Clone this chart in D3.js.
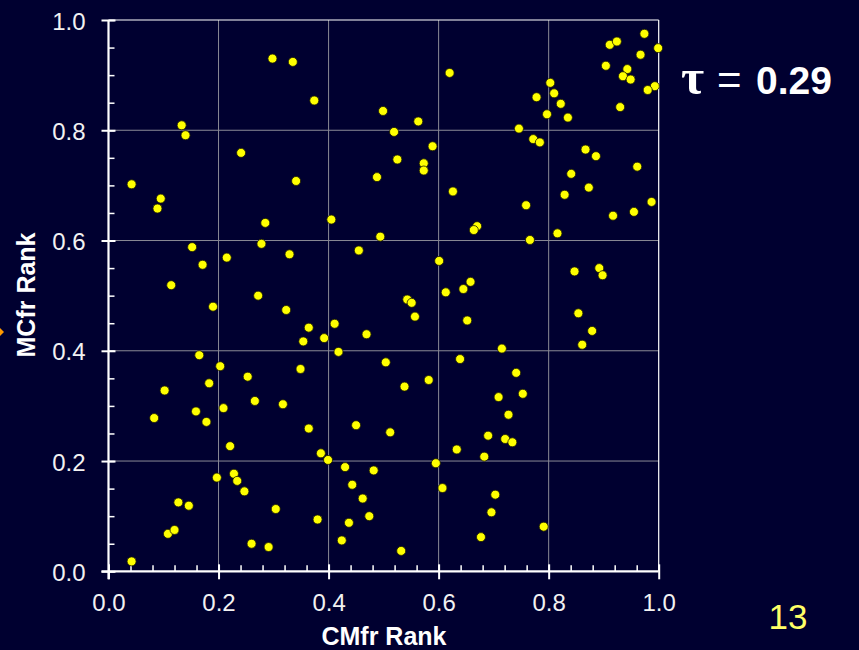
<!DOCTYPE html>
<html>
<head>
<meta charset="utf-8">
<script src="https://cdn.jsdelivr.net/npm/d3@7"></script>
<style>
  html, body { margin: 0; padding: 0; background: #000030; overflow: hidden; }
  svg { display: block; }
</style>
</head>
<body>
<svg id="chart" width="859" height="650"></svg>
<script>
// ---- data ----
const cmfrRank = [
  0.298,0.335,0.374,0.499,0.133,0.140,0.241,0.042,0.095,0.089,0.341,0.488,0.285,0.405,0.494,0.152,0.278,0.171,0.215,0.329,0.455,0.114,0.272,
  0.190,0.323,0.364,0.411,0.354,0.392,0.469,0.418,0.504,0.165,0.203,0.253,0.102,0.183,0.349,0.266,0.317,0.209,0.083,0.159,0.178,0.364,0.450,0.221,
  0.386,0.399,0.430,0.482,0.197,0.228,0.234,0.247,0.443,0.462,0.127,0.146,0.304,0.380,0.474,0.437,0.108,0.120,0.424,0.260,0.291,0.042,
  0.620,0.974,0.911,0.924,0.999,0.967,0.904,0.943,0.935,0.949,0.993,0.980,0.930,0.803,0.810,0.778,0.822,0.797,0.835,0.563,0.519,0.746,
  0.772,0.784,0.589,0.525,0.573,0.573,0.867,0.886,0.961,0.841,0.873,0.829,0.626,0.987,0.759,0.955,0.917,0.670,0.664,0.816,0.766,0.601,
  0.847,0.892,0.898,0.658,0.645,0.613,
  0.543,0.551,0.557,0.652,0.854,0.879,0.861,0.715,0.639,0.741,0.582,0.538,0.753,0.709,0.727,0.512,0.690,0.721,0.734,0.633,0.683,0.595,
  0.607,0.703,0.696,0.791,0.677,0.532
];
const mcfrRank = [
  0.930,0.924,0.854,0.835,0.809,0.791,0.759,0.702,0.676,0.658,0.708,0.715,0.632,0.638,0.607,0.588,0.594,0.556,0.569,0.575,0.582,0.519,0.500,
  0.480,0.474,0.442,0.449,0.417,0.423,0.430,0.398,0.379,0.392,0.372,0.353,0.328,0.341,0.367,0.309,0.303,0.296,0.278,0.290,0.271,0.259,0.265,0.227,
  0.214,0.202,0.189,0.183,0.170,0.177,0.164,0.145,0.157,0.132,0.125,0.119,0.113,0.094,0.100,0.088,0.068,0.075,0.056,0.050,0.044,0.018,
  0.904,0.975,0.955,0.961,0.949,0.937,0.917,0.911,0.898,0.892,0.880,0.873,0.842,0.886,0.867,0.860,0.848,0.829,0.823,0.816,0.797,0.803,
  0.784,0.778,0.771,0.747,0.740,0.727,0.765,0.753,0.734,0.721,0.696,0.683,0.689,0.670,0.664,0.652,0.645,0.626,0.619,0.613,0.601,0.563,
  0.544,0.550,0.537,0.525,0.512,0.506,
  0.493,0.487,0.462,0.455,0.468,0.436,0.411,0.404,0.385,0.360,0.347,0.335,0.322,0.316,0.284,0.252,0.246,0.240,0.234,0.221,0.208,0.196,
  0.151,0.139,0.107,0.081,0.062,0.037
];
const majorTicks = [0.0, 0.2, 0.4, 0.6, 0.8, 1.0];
const xMinorTicks = d3.range(0, 1.0001, 0.04);
const yMinorTicks = d3.range(0, 1.0001, 0.05);
const xTitle = "CMfr Rank";
const yTitle = "MCfr Rank";
const tauLabel = "0.29";
const slideNumber = "13";

// ---- drawing ----
const svg = d3.select("#chart");
const W = 859, H = 650;
svg.append("rect").attr("width", W).attr("height", H).attr("fill", "#000030");

const pL = 108.5, pR = 658.7, pT = 20, pB = 571.3;
const x = d3.scaleLinear().domain([0, 1]).range([pL, pR]);
const y = d3.scaleLinear().domain([0, 1]).range([pB, pT]);

const font = "'Liberation Sans', Arial, Helvetica, sans-serif";

// gridlines
const grid = svg.append("g");
grid.selectAll("line.gx").data(majorTicks.slice(1, -1)).join("line").attr("class", "gx")
  .attr("x1", d => x(d)).attr("x2", d => x(d)).attr("y1", pT).attr("y2", pB)
  .attr("stroke", "#8a8a96").attr("stroke-width", 1);
grid.selectAll("line.gy").data(majorTicks.slice(1, -1)).join("line").attr("class", "gy")
  .attr("y1", d => y(d)).attr("y2", d => y(d)).attr("x1", pL).attr("x2", pR)
  .attr("stroke", "#8a8a96").attr("stroke-width", 1);

// top and right border
svg.append("line").attr("x1", pL).attr("x2", pR).attr("y1", pT).attr("y2", pT)
  .attr("stroke", "#ffffff").attr("stroke-width", 1.2);
svg.append("line").attr("x1", pR).attr("x2", pR).attr("y1", pT).attr("y2", pB)
  .attr("stroke", "#ffffff").attr("stroke-width", 1.2);

// minor ticks (inside)
const xMinor = svg.append("g").attr("transform", `translate(0,${pB})`)
  .call(d3.axisTop(x).tickValues(xMinorTicks).tickSize(6).tickFormat(""));
xMinor.select(".domain").remove();
xMinor.selectAll("line").attr("stroke", "#ffffff").attr("stroke-width", 1.5);

const yMinor = svg.append("g").attr("transform", `translate(${pL},0)`)
  .call(d3.axisRight(y).tickValues(yMinorTicks).tickSize(6).tickFormat(""));
yMinor.select(".domain").remove();
yMinor.selectAll("line").attr("stroke", "#ffffff").attr("stroke-width", 1.5);

// major axes
const xAxis = svg.append("g").attr("transform", `translate(0,${pB})`)
  .call(d3.axisBottom(x).tickValues(majorTicks).tickSize(8).tickPadding(18).tickFormat(d3.format(".1f")));
xAxis.select(".domain").attr("d", `M${pL - 7},0H${pR}`).attr("stroke", "#ffffff").attr("stroke-width", 2.2);
xAxis.selectAll(".tick line").attr("y1", -7).attr("y2", 8).attr("stroke", "#ffffff").attr("stroke-width", 2);
xAxis.selectAll(".tick text").attr("fill", "#f2f2f2").attr("font-family", font).attr("font-size", 24)
  .attr("dy", "0.71em").attr("y", 23);

const yAxis = svg.append("g").attr("transform", `translate(${pL},0)`)
  .call(d3.axisLeft(y).tickValues(majorTicks).tickSize(7).tickPadding(16).tickFormat(d3.format(".1f")));
yAxis.select(".domain").attr("d", `M0,${pT}V${pB + 8}`).attr("stroke", "#ffffff").attr("stroke-width", 2.2);
yAxis.selectAll(".tick line").attr("x1", -7).attr("x2", 7).attr("stroke", "#ffffff").attr("stroke-width", 2);
yAxis.selectAll(".tick text").attr("fill", "#f2f2f2").attr("font-family", font).attr("font-size", 24)
  .attr("x", -23).attr("dy", "0.38em");

// points
const pts = d3.zip(cmfrRank, mcfrRank);
svg.append("g").selectAll("circle").data(pts).join("circle")
  .attr("cx", d => x(d[0])).attr("cy", d => y(d[1])).attr("r", 4.5)
  .attr("fill", "#ffff00").attr("stroke", "#1a1a00").attr("stroke-width", 0.8);

// axis titles
svg.append("text").attr("x", 384).attr("y", 645).attr("text-anchor", "middle")
  .attr("font-family", font).attr("font-weight", "bold").attr("font-size", 25)
  .attr("fill", "#ffffff").text(xTitle);
svg.append("text").attr("transform", "translate(35,295) rotate(-90)").attr("text-anchor", "middle")
  .attr("font-family", font).attr("font-weight", "bold").attr("font-size", 25)
  .attr("fill", "#ffffff").text(yTitle);

// tau annotation
const tau = svg.append("g");
tau.append("text").attr("x", 681).attr("y", 94)
  .attr("font-family", "'Liberation Serif', 'DejaVu Serif', serif").attr("font-size", 50)
  .attr("font-weight", "bold").attr("fill", "#ffffff").text("τ");
tau.append("text").attr("x", 717).attr("y", 94)
  .attr("font-family", font).attr("font-size", 42)
  .attr("fill", "#ffffff").text("=");
tau.append("text").attr("x", 756).attr("y", 94)
  .attr("font-family", font).attr("font-weight", "bold").attr("font-size", 39)
  .attr("fill", "#ffffff").text(tauLabel);

// slide number
svg.append("text").attr("x", 788).attr("y", 629).attr("text-anchor", "middle")
  .attr("font-family", font).attr("font-size", 35)
  .attr("fill", "#ffff66").text(slideNumber);

// small orange mark on left edge
svg.append("path").attr("d", "M0,328 L4,332 L0,336 Z").attr("fill", "#ff9900");
</script>
</body>
</html>
